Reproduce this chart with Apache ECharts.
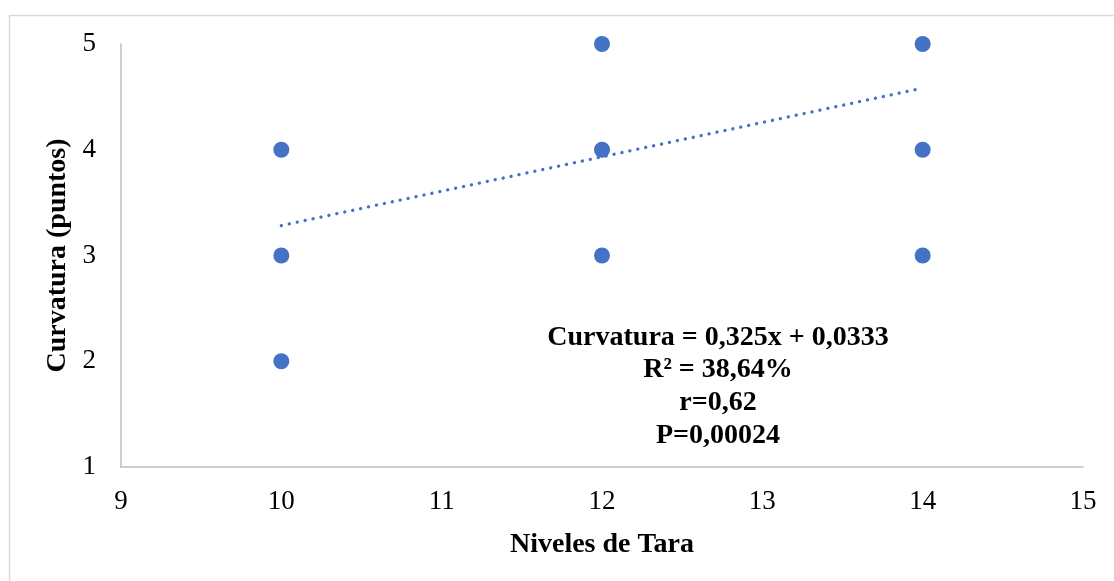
<!DOCTYPE html>
<html>
<head>
<meta charset="utf-8">
<script src="https://cdn.jsdelivr.net/npm/echarts@6/dist/echarts.min.js"></script>
<style>
  html, body { margin: 0; padding: 0; background: #fff; }
  #chart { width: 1114px; height: 581px; }
</style>
</head>
<body>
<div id="chart"></div>
<script>
// datos
var nivelesTara = [10, 10, 10, 12, 12, 12, 14, 14, 14];
var curvatura = [4, 3, 2, 5, 4, 3, 5, 4, 3];
var tendenciaX = [10, 14];
var tendenciaY = [3.283, 4.583];
var xTicks = [9, 10, 11, 12, 13, 14, 15];
var yTicks = [1, 2, 3, 4, 5];
var anotacion = ["Curvatura = 0,325x + 0,0333", "R² = 38,64%", "r=0,62", "P=0,00024"];

var font = "'Liberation Serif', 'Times New Roman', serif";

var chart = echarts.init(document.getElementById("chart"));

var option = {
  animation: false,
  backgroundColor: "#fff",
  grid: { left: 121, right: 31, top: 44, bottom: 114 },
  xAxis: {
    type: "value",
    min: xTicks[0],
    max: xTicks[xTicks.length - 1],
    interval: 1,
    name: "Niveles de Tara",
    nameLocation: "middle",
    nameGap: 64,
    nameTextStyle: { fontFamily: font, fontSize: 28, fontWeight: "bold", color: "#000" },
    axisLine: { show: true, lineStyle: { color: "#bfbfbf", width: 1.5 } },
    axisTick: { show: false },
    splitLine: { show: false },
    axisLabel: { fontFamily: font, fontSize: 27, color: "#000", margin: 21 }
  },
  yAxis: {
    type: "value",
    min: yTicks[0],
    max: yTicks[yTicks.length - 1],
    interval: 1,
    name: "Curvatura (puntos)",
    nameLocation: "middle",
    nameGap: 45,
    nameRotate: 90,
    nameTextStyle: { fontFamily: font, fontSize: 28, fontWeight: "bold", color: "#000" },
    axisLine: { show: true, lineStyle: { color: "#bfbfbf", width: 1.5 } },
    axisTick: { show: false },
    splitLine: { show: false },
    axisLabel: { fontFamily: font, fontSize: 27, color: "#000", margin: 25 }
  },
  series: [
    {
      type: "scatter",
      symbolSize: 16,
      itemStyle: { color: "#4472C4", opacity: 1 },
      data: nivelesTara.map(function (x, i) { return [x, curvatura[i]]; }),
      z: 3
    },
    {
      type: "line",
      symbol: "none",
      lineStyle: { color: "#4472C4", width: 3.3, type: [0.1, 8], cap: "round" },
      data: tendenciaX.map(function (x, i) { return [x, tendenciaY[i]]; }),
      z: 2
    }
  ],
  graphic: [
    {
      type: "rect",
      shape: { x: 9.5, y: 15.5, width: 1110, height: 570 },
      style: { fill: "none", stroke: "#d9d9d9", lineWidth: 1.5 },
      silent: true
    },
    {
      type: "text",
      x: 718,
      y: 321,
      style: {
        text: anotacion.join("\n"),
        fontFamily: font,
        fontSize: 28,
        fontWeight: "bold",
        fill: "#000",
        align: "center",
        lineHeight: 32.7
      }
    }
  ]
};

chart.setOption(option);
</script>
</body>
</html>
